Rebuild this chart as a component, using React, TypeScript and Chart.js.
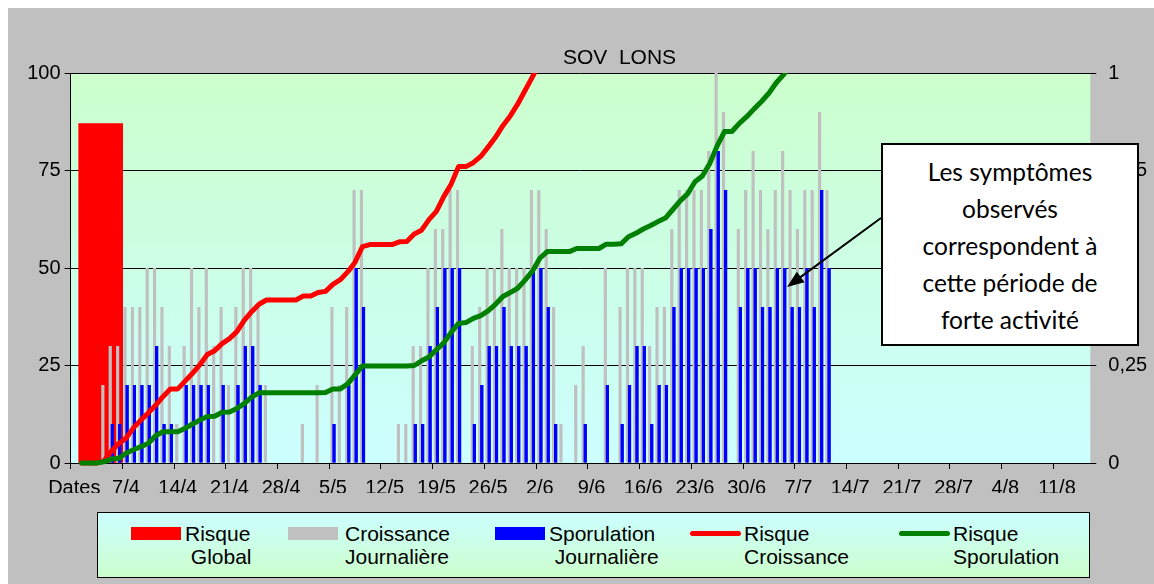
import React, { useEffect, useRef } from 'react';
import { Chart, registerables } from 'chart.js';

Chart.register(...registerables);

// ---- Data ----
const tickLabels = ['Dates', '7/4', '14/4', '21/4', '28/4', '5/5', '12/5', '19/5', '26/5', '2/6', '9/6', '16/6', '23/6', '30/6', '7/7', '14/7', '21/7', '28/7', '4/8', '11/8'];

// one category per day, first category is the "Dates" header (31/3)
const categories: string[] = Array.from({ length: 138 }, (_, i) => {
  if (i === 0) return 'Dates';
  const d = new Date(2000, 2, 31 + i);
  return `${d.getDate()}/${d.getMonth() + 1}`;
});

const croissanceJournaliere = [
  0, 0, 0, 0, 20, 30, 30, 40, 40, 40,
  50, 50, 40, 30, 10, 30, 50, 40, 50, 30,
  40, 20, 40, 50, 50, 40, 20, 0, 0, 0,
  0, 10, 0, 20, 0, 40, 20, 40, 70, 70,
  0, 0, 0, 0, 10, 10, 30, 30, 50, 60,
  60, 70, 70, 0, 30, 40, 50, 50, 60, 50,
  50, 50, 70, 70, 60, 40, 10, 0, 20, 30,
  0, 0, 50, 0, 40, 50, 50, 50, 30, 40,
  40, 60, 70, 70, 70, 70, 80, 100, 90, 0,
  60, 70, 80, 70, 60, 70, 80, 70, 60, 70,
  70, 90, 70,
];

const sporulationJournaliere = [
  0, 0, 0, 0, 0, 10, 10, 20, 20, 20,
  20, 30, 10, 10, 0, 20, 20, 20, 20, 0,
  20, 0, 20, 30, 30, 20, 0, 0, 0, 0,
  0, 0, 0, 0, 0, 10, 0, 20, 50, 40,
  0, 0, 0, 0, 0, 0, 10, 10, 30, 40,
  50, 50, 50, 0, 10, 20, 30, 30, 40, 30,
  30, 30, 50, 50, 40, 10, 0, 0, 0, 10,
  0, 0, 20, 0, 10, 20, 30, 30, 10, 20,
  20, 40, 50, 50, 50, 50, 60, 80, 70, 0,
  40, 50, 50, 40, 40, 50, 50, 40, 40, 50,
  40, 70, 50,
];

const risqueCroissance = [
  null, 0, 0, 0, 0.005, 0.03, 0.05, 0.063, 0.09, 0.11,
  0.128, 0.148, 0.17, 0.19, 0.19, 0.21, 0.23, 0.252, 0.278, 0.288,
  0.306, 0.319, 0.337, 0.366, 0.388, 0.407, 0.418, 0.418, 0.418, 0.418,
  0.418, 0.428, 0.428, 0.437, 0.44, 0.458, 0.47, 0.49, 0.515, 0.555,
  0.56, 0.56, 0.56, 0.56, 0.567, 0.568, 0.587, 0.597, 0.624, 0.645,
  0.683, 0.715, 0.76, 0.76, 0.77, 0.786, 0.81, 0.835, 0.865, 0.89,
  0.92, 0.955, 0.99, 1.025, 1.06,
];

const risqueSporulation = [
  null, 0, 0, 0, 0.003, 0.01, 0.012, 0.025, 0.034, 0.042,
  0.05, 0.07, 0.08, 0.08, 0.08, 0.089, 0.1, 0.11, 0.119, 0.12,
  0.13, 0.131, 0.14, 0.152, 0.169, 0.18, 0.18, 0.18, 0.18, 0.18,
  0.18, 0.18, 0.18, 0.18, 0.181, 0.19, 0.19, 0.203, 0.226, 0.249,
  0.249, 0.249, 0.249, 0.249, 0.249, 0.249, 0.25, 0.262, 0.272, 0.29,
  0.308, 0.335, 0.358, 0.36, 0.371, 0.378, 0.39, 0.407, 0.427, 0.437,
  0.448, 0.469, 0.492, 0.525, 0.542, 0.542, 0.542, 0.542, 0.55, 0.55,
  0.55, 0.55, 0.561, 0.561, 0.562, 0.58, 0.589, 0.6, 0.609, 0.619,
  0.628, 0.65, 0.672, 0.69, 0.721, 0.736, 0.768, 0.813, 0.85, 0.85,
  0.871, 0.888, 0.908, 0.927, 0.948, 0.975, 0.996, 1.02, 1.045,
];

// Risque Global: one value, placed at the middle of the first week (in days)
const risqueGlobal = [{ x: 4.07, y: 87 }];

const leftTicks = [0, 25, 50, 75, 100];

const FONT = '"Liberation Sans", Arial, Helvetica, sans-serif';

const plotBg = {
  id: 'plotBg',
  beforeDraw(chart: any) {
    const { ctx, chartArea: a } = chart;
    const g = ctx.createLinearGradient(0, a.top, 0, a.bottom);
    g.addColorStop(0, '#CCFFCC');
    g.addColorStop(1, '#CCFFFF');
    ctx.save();
    ctx.fillStyle = g;
    ctx.fillRect(a.left, a.top, a.right - a.left, a.bottom - a.top);
    ctx.restore();
  },
};

// keep the blue bars above the grey ones (they overlap slightly, as in the original)
const blueOnTop = {
  id: 'blueOnTop',
  afterDatasetDraw(chart: any, args: any) {
    const ds = chart.data.datasets;
    if (ds[args.index] && ds[args.index].label === 'Croissance Journalière') {
      const bi = ds.findIndex((d: any) => d.label === 'Sporulation Journalière');
      const meta = chart.getDatasetMeta(bi);
      if (meta && !meta.hidden) meta.controller.draw();
    }
  },
};

const arrowPlugin = {
  id: 'arrow',
  afterDraw(chart: any) {
    const ctx = chart.ctx;
    const x0 = 873, y0 = 210, x1 = 779, y1 = 279;
    const ang = Math.atan2(y1 - y0, x1 - x0);
    const len = 17, half = 6.5;
    ctx.save();
    ctx.strokeStyle = '#000';
    ctx.fillStyle = '#000';
    ctx.lineWidth = 2;
    ctx.beginPath();
    ctx.moveTo(x0, y0);
    ctx.lineTo(x1 - Math.cos(ang) * (len - 2), y1 - Math.sin(ang) * (len - 2));
    ctx.stroke();
    const bx = x1 - Math.cos(ang) * len, by = y1 - Math.sin(ang) * len;
    ctx.beginPath();
    ctx.moveTo(x1, y1);
    ctx.lineTo(bx + Math.sin(ang) * half, by - Math.cos(ang) * half);
    ctx.lineTo(bx - Math.sin(ang) * half, by + Math.cos(ang) * half);
    ctx.closePath();
    ctx.fill();
    ctx.restore();
  },
};

const legendItems = [
  { kind: 'box', color: '#FF0000', lines: ['Risque', ' Global'], sx: 34, tx: 88 },
  { kind: 'box', color: '#C0C0C0', lines: ['Croissance', 'Journalière'], sx: 191, tx: 248 },
  { kind: 'box', color: '#0000FF', lines: ['Sporulation', ' Journalière'], sx: 398, tx: 452 },
  { kind: 'line', color: '#FF0000', lines: ['Risque', 'Croissance'], sx: 593, tx: 647 },
  { kind: 'line', color: '#008000', lines: ['Risque', 'Sporulation'], sx: 802, tx: 856 },
];

export default function App() {
  const ref = useRef<HTMLCanvasElement | null>(null);

  useEffect(() => {
    if (!ref.current) return;
    Chart.defaults.font.family = FONT;
    Chart.defaults.color = '#000';
    const lineClip = { left: 5, top: 0, right: 5, bottom: 5 };
    const chart = new Chart(ref.current, {
      type: 'bar',
      data: {
        labels: categories,
        datasets: [
          {
            type: 'bar', label: 'Risque Global', data: risqueGlobal as any,
            xAxisID: 'xg', yAxisID: 'y', backgroundColor: '#FF0000', borderWidth: 0,
            grouped: false, maxBarThickness: 44, barPercentage: 1, categoryPercentage: 1, order: 4,
          },
          {
            type: 'line', label: 'Risque Sporulation', data: risqueSporulation as any,
            xAxisID: 'x', yAxisID: 'y1', borderColor: '#008000', backgroundColor: '#008000',
            borderWidth: 5, pointRadius: 0, tension: 0, fill: false, order: 0,
            borderJoinStyle: 'round', borderCapStyle: 'round', clip: lineClip as any,
          },
          {
            type: 'line', label: 'Risque Croissance', data: risqueCroissance as any,
            xAxisID: 'x', yAxisID: 'y1', borderColor: '#FF0000', backgroundColor: '#FF0000',
            borderWidth: 5, pointRadius: 0, tension: 0, fill: false, order: 1,
            borderJoinStyle: 'round', borderCapStyle: 'round', clip: lineClip as any,
          },
          {
            type: 'bar', label: 'Croissance Journalière', data: croissanceJournaliere,
            xAxisID: 'x', yAxisID: 'y', backgroundColor: '#C0C0C0', borderWidth: 0,
            categoryPercentage: 1.083, barPercentage: 1.6, grouped: true, order: 2,
          },
          {
            type: 'bar', label: 'Sporulation Journalière', data: sporulationJournaliere,
            xAxisID: 'x', yAxisID: 'y', backgroundColor: '#0000FF', borderWidth: 0,
            categoryPercentage: 1.083, barPercentage: 1.6, grouped: true, order: 3,
          },
        ],
      },
      options: {
        animation: false,
        responsive: false,
        layout: { padding: { top: 65, bottom: 91, left: 0, right: 0 } },
        plugins: {
          legend: { display: false },
          title: { display: false },
          tooltip: { enabled: false },
        },
        scales: {
          x: {
            type: 'category',
            offset: true,
            grid: {
              offset: true,
              drawOnChartArea: false,
              drawTicks: true,
              tickLength: 6,
              color: (c: any) => (c.index !== undefined && c.index % 7 === 0 ? '#000' : 'rgba(0,0,0,0)'),
            },
            border: { display: true, color: '#000', width: 1 },
            ticks: {
              autoSkip: false,
              maxRotation: 0,
              minRotation: 0,
              padding: 7,
              color: '#000',
              font: { size: 20, family: FONT },
              callback: (_v: any, i: number) => (i % 7 === 0 ? tickLabels[i / 7] ?? '' : ''),
            },
            afterFit: (s: any) => { s.height = 30; },
          },
          xg: { type: 'linear', display: false, min: 0, max: 138, offset: false, grid: { offset: false } },
          y: {
            position: 'left',
            min: 0,
            max: 100,
            afterBuildTicks: (s: any) => { s.ticks = leftTicks.map((v) => ({ value: v })); },
            ticks: { padding: 4, color: '#000', font: { size: 20, family: FONT } },
            grid: { color: '#000', drawTicks: true, tickLength: 6 },
            border: { display: true, color: '#000' },
            afterFit: (s: any) => { s.width = 62.6; },
          },
          y1: {
            position: 'right',
            min: 0,
            max: 1,
            ticks: {
              stepSize: 0.25, padding: 12, color: '#000', font: { size: 20, family: FONT },
              callback: (v: any) => String(v).replace('.', ','),
            },
            grid: { drawOnChartArea: false, color: '#000', drawTicks: true, tickLength: 6 },
            border: { display: false },
            afterFit: (s: any) => { s.width = 63.7; },
          },
        },
      } as any,
      plugins: [plotBg, blueOnTop, arrowPlugin],
    });
    return () => chart.destroy();
  }, []);

  return (
    <div style={{ position: 'absolute', left: 8, top: 8, width: 1146, height: 576, background: '#C0C0C0', overflow: 'hidden' }}>
      <canvas ref={ref} width={1146} height={576} style={{ position: 'absolute', left: 0, top: 0, width: 1146, height: 576 }} />
      <div style={{ position: 'absolute', left: 461.5, top: 37, width: 300, textAlign: 'center', fontFamily: FONT, fontSize: 21, lineHeight: '24px', color: '#000', whiteSpace: 'pre' }}>
        {'SOV  LONS'}
      </div>
      <div style={{
        position: 'absolute', left: 872.7, top: 134.7, width: 258.6, height: 203.3, boxSizing: 'border-box',
        border: '2px solid #000', background: '#fff', display: 'flex', flexDirection: 'column',
        justifyContent: 'center', alignItems: 'center', fontFamily: 'Lato, "Open Sans", sans-serif',
        fontSize: 24.5, lineHeight: '37px', color: '#000', textAlign: 'center', paddingTop: 3,
      }}>
        <div>Les symptômes</div>
        <div>observés</div>
        <div>correspondent à</div>
        <div>cette période de</div>
        <div>forte activité</div>
      </div>
      <div style={{
        position: 'absolute', left: 89, top: 504, width: 993, height: 66, boxSizing: 'border-box',
        border: '1px solid #000', background: 'linear-gradient(#CCFFFF, #CCFFCC)',
      }}>
        {legendItems.map((it, i) => (
          <React.Fragment key={i}>
            {it.kind === 'box' ? (
              <div style={{ position: 'absolute', left: it.sx - 1, top: 14, width: 50, height: 13, background: it.color }} />
            ) : (
              <div style={{ position: 'absolute', left: it.sx - 1, top: 17.5, width: 51, height: 5, borderRadius: 3, background: it.color }} />
            )}
            <div style={{ position: 'absolute', left: it.tx - 1, top: 8.5, fontFamily: FONT, fontSize: 21, lineHeight: '23px', color: '#000', whiteSpace: 'pre' }}>
              {it.lines[0]}
              <br />
              {it.lines[1]}
            </div>
          </React.Fragment>
        ))}
      </div>
    </div>
  );
}
